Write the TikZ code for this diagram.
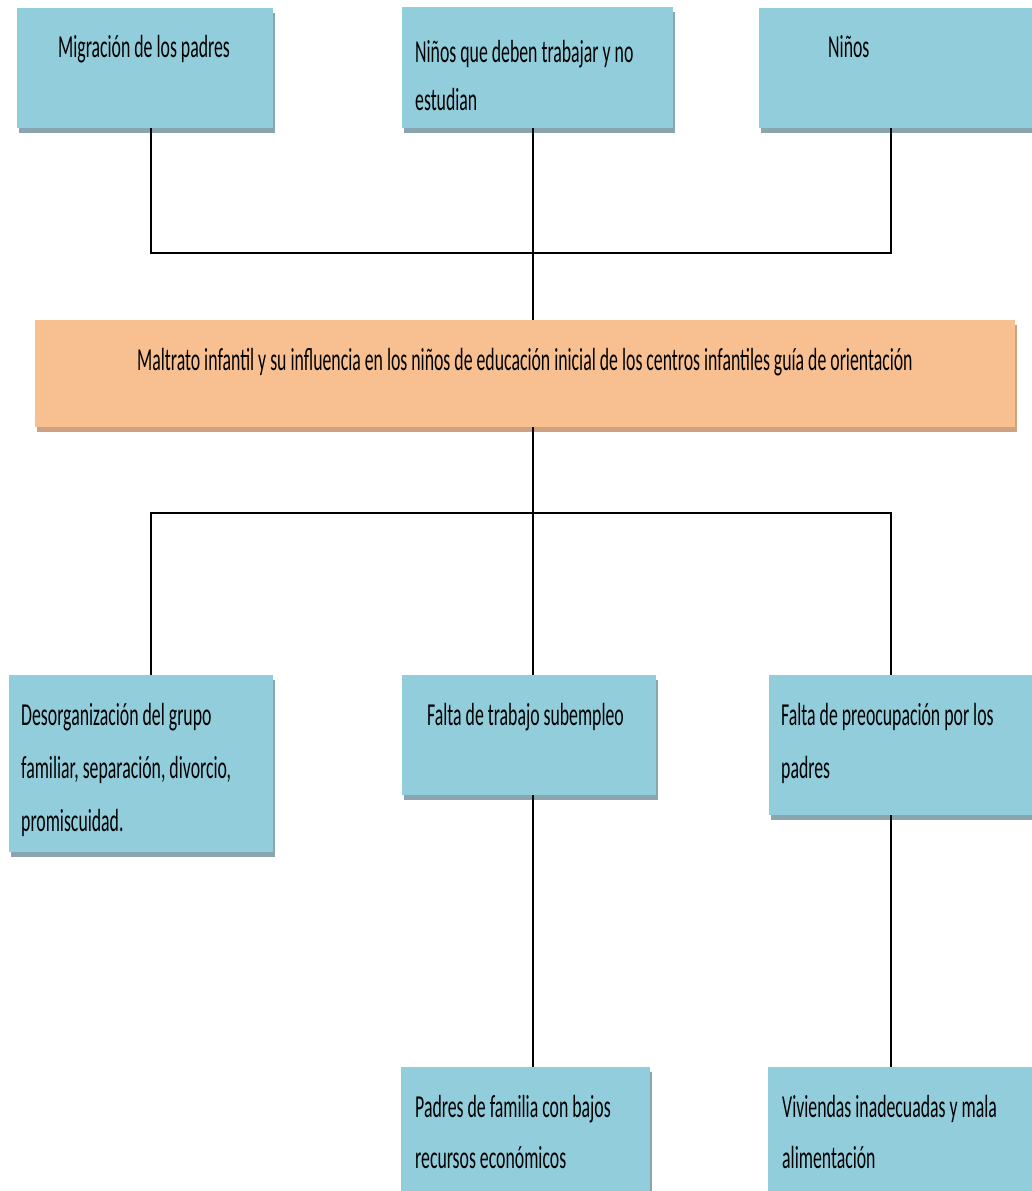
\documentclass[tikz,border=0pt]{standalone}
\usepackage{fontspec}
\setmainfont{Carlito}[FakeStretch=0.555]
\usetikzlibrary{shadows}
\definecolor{boxblue}{HTML}{92CDDC}
\definecolor{boxorange}{HTML}{F8C090}
\definecolor{shblue}{HTML}{8AA5AE}
\definecolor{shorange}{HTML}{CDA282}
\begin{document}
\begin{tikzpicture}[x=1pt,y=-1pt,
  bluebox/.style={fill=boxblue,draw=none,inner sep=0pt,anchor=north west,
    drop shadow={shadow xshift=2pt,shadow yshift=-5pt,fill=shblue,opacity=1}},
  orangebox/.style={fill=boxorange,draw=none,inner sep=0pt,anchor=north west,
    drop shadow={shadow xshift=2pt,shadow yshift=-5pt,fill=shorange,opacity=1}},
  lbl/.style={anchor=base west,inner sep=0pt,align=left,font=\fontsize{32}{48}\selectfont},
  wide/.style={font=\fontsize{32}{53}\selectfont},
  conn/.style={line width=1.5pt,draw=black}]
\useasboundingbox[fill=white] (0,0) rectangle (1032,1191);

% top row
\node[bluebox,minimum width=256pt,minimum height=120pt] (b1) at (17,8) {};
\node[bluebox,minimum width=271pt,minimum height=121pt] (b2) at (402,7) {};
\node[bluebox,minimum width=276pt,minimum height=120pt] (b3) at (759,8) {};
\node[lbl] (t1) at (58,57) {Migración de los padres};
\node[lbl] (t2) at (415,110) {Niños que deben trabajar y no\\estudian};
\node[lbl] (t3) at (828,57) {Niños};

% centre
\node[orangebox,minimum width=980pt,minimum height=107pt] (c) at (35,320) {};
\node[lbl] (tc) at (137,370) {Maltrato infantil y su influencia en los niños de educación inicial de los centros infantiles guía de orientación};

% middle row
\node[bluebox,minimum width=264pt,minimum height=177pt] (d1) at (9,675) {};
\node[bluebox,minimum width=254pt,minimum height=120pt] (d2) at (402,675) {};
\node[bluebox,minimum width=265pt,minimum height=140pt] (d3) at (769,675) {};
\node[lbl,wide] (u1) at (21,831) {Desorganización del grupo\\familiar, separación, divorcio,\\promiscuidad.};
\node[lbl] (u2) at (427,725) {Falta de trabajo subempleo};
\node[lbl,wide] (u3) at (781,778) {Falta de preocupación por los\\padres};

% bottom row
\node[bluebox,minimum width=249pt,minimum height=130pt] (e1) at (401,1067) {};
\node[bluebox,minimum width=266pt,minimum height=130pt] (e2) at (768,1067) {};
\node[lbl,font=\fontsize{32}{51}\selectfont] (v1) at (415,1168) {Padres de familia con bajos\\recursos económicos};
\node[lbl,font=\fontsize{32}{51}\selectfont] (v2) at (782,1168) {Viviendas inadecuadas y mala\\alimentación};

% junctions
\coordinate (jl) at (151,253);
\coordinate (jm) at (533,253);
\coordinate (jr) at (891,253);
\coordinate (kl) at (151,513);
\coordinate (km) at (533,513);
\coordinate (kr) at (891,513);

\draw[conn] (b1.south -| jl) -- (jl) -- (jr) -- (b3.south -| jr);
\draw[conn] (b2.south -| jm) -- (c.north -| jm);
\draw[conn] (c.south -| km) -- (d2.north -| km);
\draw[conn] (d1.north -| kl) -- (kl) -- (kr) -- (d3.north -| kr);
\draw[conn] (d2.south -| km) -- (e1.north -| km);
\draw[conn] (d3.south -| kr) -- (e2.north -| kr);
\end{tikzpicture}
\end{document}
